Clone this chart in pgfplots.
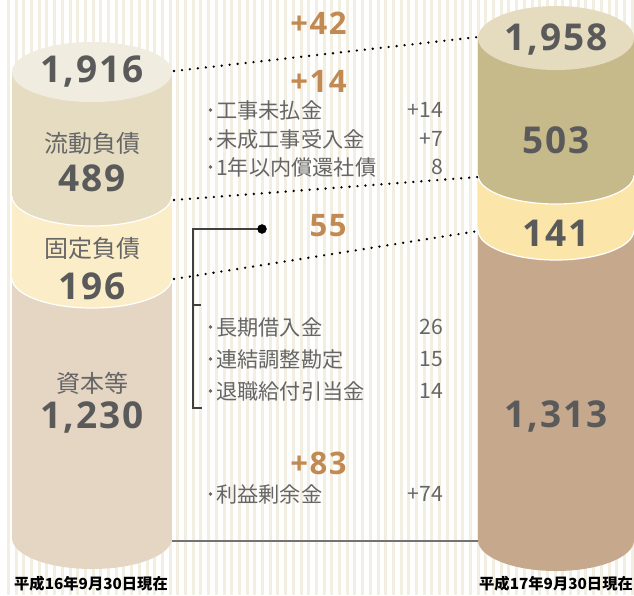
\documentclass[border=0pt]{standalone}
\usepackage{pgfplots}
\pgfplotsset{compat=1.18}
\usepackage{fontspec}
\setmainfont{Noto Sans CJK JP}
\newfontfamily\numfont[LetterSpace=5]{Open Sans}

\definecolor{stripe}{HTML}{F2EEE2}
\definecolor{txt}{HTML}{5A5A5A}
\definecolor{lbl}{HTML}{666666}
\definecolor{accent}{HTML}{C08A52}
% left cylinder
\definecolor{LTop}{HTML}{F0ECE0}
\definecolor{LCur}{HTML}{E5DCC2}
\definecolor{LFix}{HTML}{FBEDC8}
\definecolor{LCap}{HTML}{E5D6C4}
% right cylinder
\definecolor{RTop}{HTML}{E5DCC0}
\definecolor{RCur}{HTML}{C6BA8A}
\definecolor{RFix}{HTML}{FBE5A8}
\definecolor{RCap}{HTML}{C6A98C}

\newcommand{\bignum}{\numfont\bfseries\fontsize{37}{37}\selectfont\color{txt}}
\newcommand{\seglbl}{\fontsize{24}{24}\selectfont\color{lbl}}
\newcommand{\chg}{\numfont\bfseries\fontsize{31}{31}\selectfont\color{accent}}
\newcommand{\itm}{\fontsize{21.2}{21.2}\selectfont\color{lbl}}
% one bullet row of a breakdown list: y, label, value
\newcommand{\row}[3]{%
  \node[anchor=west, inner sep=0pt] at (216,#1) {\itm #2};
  \node[anchor=east, inner sep=0pt] at (443,#1) {\itm #3};
  \fill[lbl] (210.5,#1) circle [radius=1.8];}

\begin{document}
\begin{tikzpicture}[x=1pt,y=1pt]
\useasboundingbox (0,0) rectangle (634,595);
\fill[white] (0,0) rectangle (634,595);
\foreach \i in {0,...,82} \fill[stripe] ({6.9+7.7*\i},0) rectangle ++(3,595);
\begin{axis}[
  scale only axis, width=634pt, height=595pt,
  xmin=0, xmax=634, ymin=0, ymax=595, y dir=reverse,
  hide axis, clip=false,
]
% ---- left cylinder (2004): segments drawn bottom-up
\fill[LCap] (92,538) ellipse [x radius=80, y radius=31];
\addplot[fill=LCap, draw=none] coordinates {(12,278) (172,278) (172,538) (12,538)} -- cycle;
\fill[LFix, draw=white, line width=1.2pt] (92,278) ellipse [x radius=80, y radius=30];
\addplot[fill=LFix, draw=none] coordinates {(12,196) (172,196) (172,278) (12,278)} -- cycle;
\fill[LCur, draw=white, line width=1.2pt] (92,196) ellipse [x radius=80, y radius=30];
\addplot[fill=LCur, draw=none] coordinates {(12,72) (172,72) (172,196) (12,196)} -- cycle;
\fill[LTop] (92,72) ellipse [x radius=80, y radius=30];

% ---- right cylinder (2005)
\fill[RCap] (556,540) ellipse [x radius=78, y radius=31];
\addplot[fill=RCap, draw=none] coordinates {(478,230) (634,230) (634,540) (478,540)} -- cycle;
\fill[RFix, draw=white, line width=1.2pt] (556,230) ellipse [x radius=78, y radius=30];
\addplot[fill=RFix, draw=none] coordinates {(478,175) (634,175) (634,230) (478,230)} -- cycle;
\fill[RCur, draw=white, line width=1.2pt] (556,175) ellipse [x radius=78, y radius=29];
\addplot[fill=RCur, draw=none] coordinates {(478,38) (634,38) (634,175) (478,175)} -- cycle;
\fill[RTop] (556,38) ellipse [x radius=78, y radius=32];

% ---- connectors
\addplot[black, line width=2.6pt, line cap=round, dash pattern=on 0pt off 8pt]
  coordinates {(174,71) (478,37)};
\addplot[black, line width=2.6pt, line cap=round, dash pattern=on 0pt off 8pt]
  coordinates {(174,200) (478,177)};
\addplot[black, line width=2.6pt, line cap=round, dash pattern=on 0pt off 8pt]
  coordinates {(174,279) (478,231)};
\addplot[color=black!55, line width=2.5pt] coordinates {(172,541) (478,541)};

% bracket
\addplot[color=black!75, line width=1.3pt] coordinates {(262,229) (193,229) (193,408) (202,408)};
\addplot[color=black!75, line width=1.3pt] coordinates {(193,305) (201,305)};
\addplot[only marks, mark=*, mark size=4.5pt, black] coordinates {(262,229)};

% ---- cylinder texts
\node at (92,72) {\bignum 1,916};
\node at (92,143) {\seglbl 流動負債};
\node at (92,178) {\bignum 489};
\node at (92,248) {\seglbl 固定負債};
\node at (92,286) {\bignum 196};
\node at (92,383) {\seglbl 資本等};
\node at (92,417) {\bignum 1,230};

\node at (556,40) {\bignum 1,958};
\node at (556,140) {\bignum 503};
\node at (556,233) {\bignum 141};
\node at (556,416) {\bignum 1,313};

% ---- changes
\node[anchor=east] at (350,23) {\chg +42};
\node[anchor=east] at (350,81) {\chg +14};
\node[anchor=east] at (350,226) {\chg 55};
\node[anchor=east] at (350,463) {\chg +83};

\row{110}{工事未払金}{+14}
\row{139}{未成工事受入金}{+7}
\row{167}{1年以内償還社債}{8}
\row{327}{長期借入金}{26}
\row{359}{連結調整勘定}{15}
\row{391}{退職給付引当金}{14}
\row{494}{利益剰余金}{+74}

% ---- dates
\node at (91,584) {\bfseries\fontsize{15.3}{15.3}\selectfont 平成16年9月30日現在};
\node at (556,584) {\bfseries\fontsize{15.3}{15.3}\selectfont 平成17年9月30日現在};
\end{axis}
\end{tikzpicture}
\end{document}
